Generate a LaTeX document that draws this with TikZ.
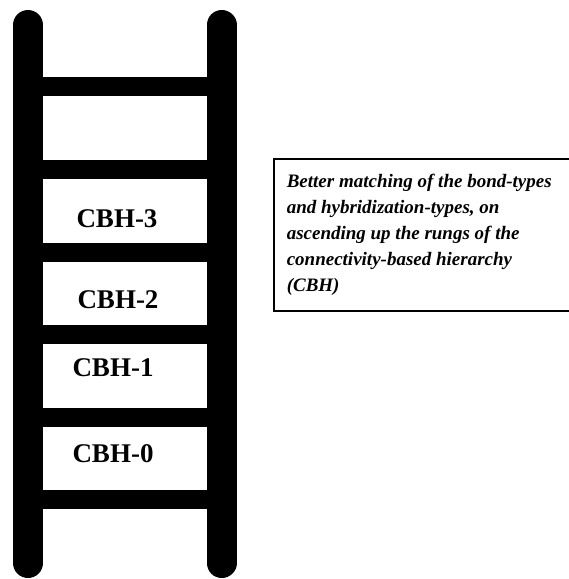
\documentclass[tikz,border=0pt]{standalone}
\usepackage{fontspec}
\setmainfont{Liberation Serif}
\usepackage{tikz}
\usetikzlibrary{positioning}

\begin{document}
\begin{tikzpicture}[x=1pt, y=-1pt,
    rail/.style={line width=30pt, line cap=round, black},
    rung/.style={line width=19pt, black},
    level/.style={font=\fontsize{27}{30}\selectfont\bfseries, inner sep=0pt},
    notebox/.style={draw, line width=1.5pt, minimum height=152pt,
        text width=285pt, inner xsep=13pt, align=flush left,
        font=\fontsize{19}{26}\selectfont\bfseries\itshape}]
\useasboundingbox (0,0) rectangle (569,579);

% Ladder rails
\def\leftx{28}
\def\rightx{221.5}
\coordinate (ltop) at (\leftx,25);
\coordinate (lbot) at (\leftx,563);
\coordinate (rtop) at (\rightx,25);
\coordinate (rbot) at (\rightx,563);
\draw[rail] (ltop) -- (lbot);
\draw[rail] (rtop) -- (rbot);

% Rungs
\foreach \y/\name in {86.5/r6, 169/r5, 252/r4, 334/r3, 417/r2, 499.5/r1} {
    \coordinate (\name l) at (\leftx,\y);
    \coordinate (\name r) at (\rightx,\y);
    \draw[rung] (\name l) -- (\name r);
}

% Hierarchy levels
\node[level] (cbh3) at (117,219) {CBH-3};
\node[level] (cbh2) at (118,300) {CBH-2};
\node[level] (cbh1) at (113,368) {CBH-1};
\node[level] (cbh0) at (113,454) {CBH-0};

% Explanation (box runs off the right edge)
\node[notebox, anchor=west] (note) at (273,235) {%
    Better matching of the bond-types\\
    and hybridization-types, on\\
    ascending up the rungs of the\\
    connectivity-based hierarchy\\
    (CBH)};

\end{tikzpicture}
\end{document}
